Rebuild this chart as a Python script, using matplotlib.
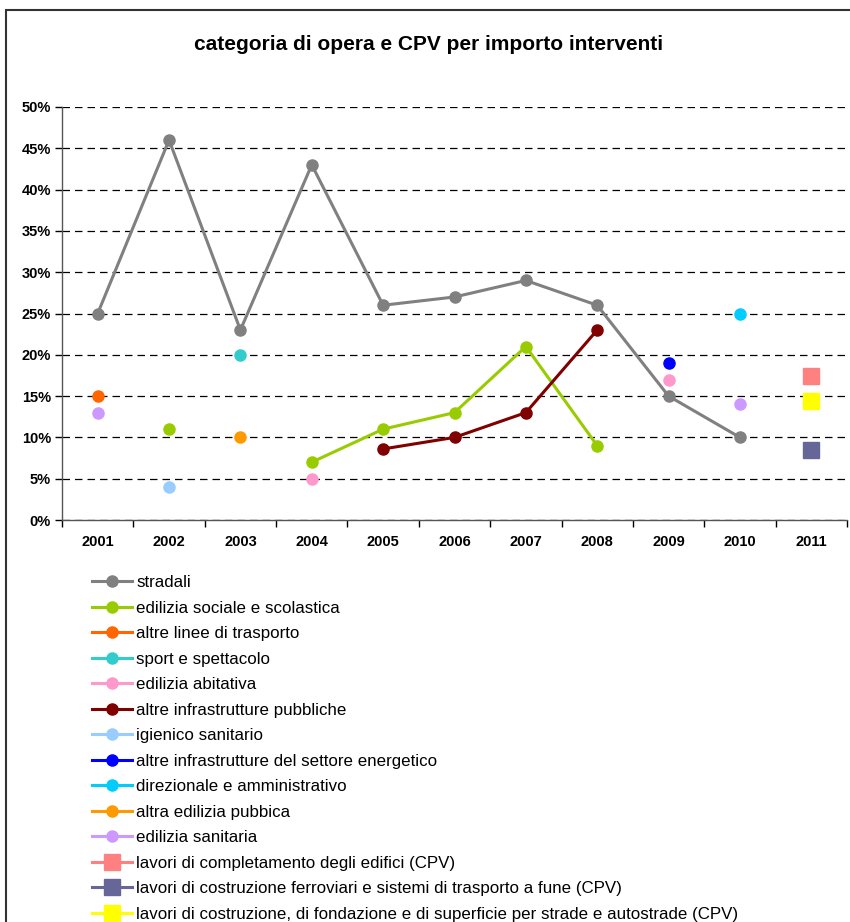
import numpy as np
import matplotlib
matplotlib.use("Agg")
import matplotlib.pyplot as plt
from matplotlib.patches import Rectangle
from matplotlib.ticker import FuncFormatter, FixedLocator

plt.rcParams['font.family'] = ['Liberation Sans', 'DejaVu Sans']

nan = np.nan
years = ['2001', '2002', '2003', '2004', '2005', '2006', '2007', '2008', '2009', '2010', '2011']

# quote percentuali per anno (nan = nessun dato)
stradali = [25, 46, 23, 43, 26, 27, 29, 26, 15, 10, nan]
edilizia_sociale = [nan, 11, nan, 7, 11, 13, 21, 9, nan, nan, nan]
altre_linee_trasporto = [15, nan, nan, nan, nan, nan, nan, nan, nan, nan, nan]
sport_spettacolo = [nan, nan, 20, nan, nan, nan, nan, nan, nan, nan, nan]
edilizia_abitativa = [nan, nan, nan, 5, nan, nan, nan, nan, 17, nan, nan]
altre_infr_pubbliche = [nan, nan, nan, nan, 8.6, 10, 13, 23, nan, nan, nan]
igienico_sanitario = [nan, 4, nan, nan, nan, nan, nan, nan, nan, nan, nan]
infr_energetico = [nan, nan, nan, nan, nan, nan, nan, nan, 19, nan, nan]
direzionale = [nan, nan, nan, nan, nan, nan, nan, nan, nan, 25, nan]
altra_edilizia_pubb = [nan, nan, 10, nan, nan, nan, nan, nan, nan, nan, nan]
edilizia_sanitaria = [13, nan, nan, nan, nan, nan, nan, nan, nan, 14, nan]
completamento_cpv = [nan, nan, nan, nan, nan, nan, nan, nan, nan, nan, 17.4]
ferroviari_cpv = [nan, nan, nan, nan, nan, nan, nan, nan, nan, nan, 8.5]
strade_cpv = [nan, nan, nan, nan, nan, nan, nan, nan, nan, nan, 14.4]

series = [
    ('stradali', stradali, '#808080', 'o'),
    ('edilizia sociale e scolastica', edilizia_sociale, '#99CC00', 'o'),
    ('altre linee di trasporto', altre_linee_trasporto, '#FF6600', 'o'),
    ('sport e spettacolo', sport_spettacolo, '#33CCCC', 'o'),
    ('edilizia abitativa', edilizia_abitativa, '#FF99CC', 'o'),
    ('altre infrastrutture pubbliche', altre_infr_pubbliche, '#800000', 'o'),
    ('igienico sanitario', igienico_sanitario, '#99CCFF', 'o'),
    ('altre infrastrutture del settore energetico', infr_energetico, '#0000FF', 'o'),
    ('direzionale e amministrativo', direzionale, '#00CCFF', 'o'),
    ('altra edilizia pubbica', altra_edilizia_pubb, '#FF9900', 'o'),
    ('edilizia sanitaria', edilizia_sanitaria, '#CC99FF', 'o'),
    ('lavori di completamento degli edifici (CPV)', completamento_cpv, '#FF8080', 's'),
    ('lavori di costruzione ferroviari e sistemi di trasporto a fune (CPV)', ferroviari_cpv, '#666699', 's'),
    ('lavori di costruzione, di fondazione e di superficie per strade e autostrade (CPV)', strade_cpv, '#FFFF00', 's'),
]

W, H = 850, 922
fig = plt.figure(figsize=(W / 100, H / 100), dpi=100)
ax = fig.add_axes([62 / W, 1 - 520 / H, (847 - 62) / W, (520 - 107) / H])

x = np.arange(len(years))
for name, vals, col, mk in series:
    ms = 8 if mk == 'o' else 11.5
    ax.plot(x, vals, '-', marker=mk, color=col, lw=2.2, ms=ms, mec=col, label=name, clip_on=False, zorder=3)

ax.set_xlim(-0.5, len(years) - 0.5)
ax.set_ylim(0, 50)
ax.set_yticks(np.arange(0, 51, 5))
ax.yaxis.set_major_formatter(FuncFormatter(lambda v, p: '%d%%' % v))
ax.set_xticks(x)
ax.set_xticklabels(years)
ax.xaxis.set_minor_locator(FixedLocator(np.arange(-0.5, len(years), 1)))
ax.tick_params(axis='x', which='major', length=0, pad=11, labelsize=10.5)
ax.tick_params(axis='x', which='minor', length=5, direction='out', width=1)
ax.tick_params(axis='y', length=5, direction='out', width=1, labelsize=10.5, pad=3)
for lab in ax.get_xticklabels() + ax.get_yticklabels():
    lab.set_fontweight('bold')

ax.grid(axis='y', color='black', linestyle=(0, (6, 4)), lw=0.9)
ax.set_axisbelow(True)
for s in ['top', 'right']:
    ax.spines[s].set_visible(False)
for s in ['left', 'bottom']:
    ax.spines[s].set_color('#555555')
    ax.spines[s].set_linewidth(1)

fig.text(429 / W, 1 - 45 / H, 'categoria di opera e CPV per importo interventi',
         ha='center', va='center', fontsize=15, fontweight='bold')

handles, labels = ax.get_legend_handles_labels()
fig.legend(handles, labels, loc='upper left', bbox_to_anchor=(92 / W, 1 - 575 / H),
           frameon=False, fontsize=12.2, handlelength=2.35, handletextpad=0.25,
           labelspacing=0.62, borderpad=0, borderaxespad=0)

fig.patches.append(Rectangle((6 / W, -0.1), 2, 1.1 - 10 / H, transform=fig.transFigure,
                             fill=False, edgecolor='#333333', lw=1.5))

fig.savefig('out.png', dpi=100, facecolor='white')
